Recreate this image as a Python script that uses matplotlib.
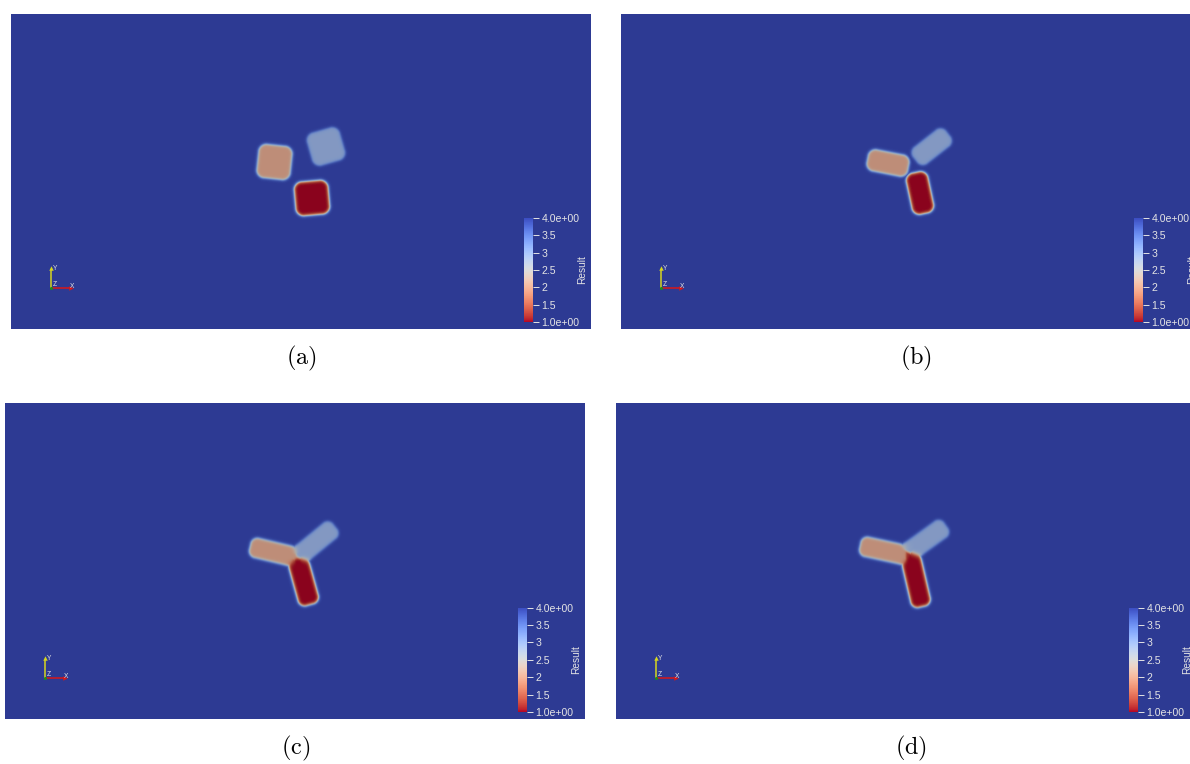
import numpy as np
import matplotlib
matplotlib.use("Agg")
import matplotlib.pyplot as plt
from matplotlib.colors import ListedColormap, Normalize
from matplotlib.cm import ScalarMappable

plt.rcParams["mathtext.fontset"] = "cm"

# ---------------------------------------------------------------- data
# phase field values: grain A (red), grain B (orange), grain C (light blue)
grain_values = [1.0, 2.0, 3.0]
matrix_value = 4.0
value_range = (1.0, 4.0)

cbar_ticks = [1.0, 1.5, 2.0, 2.5, 3.0, 3.5, 4.0]
cbar_ticklabels = ["1.0e+00", "1.5", "2", "2.5", "3", "3.5", "4.0e+00"]
cbar_title = "Result"

captions = ["(a)", "(b)", "(c)", "(d)"]

# (a) three rounded square grains: centre x, centre y, half length, half width, angle [deg]
grains_a_cx = [301.0, 263.5, 315.0]
grains_a_cy = [184.0, 148.0, 132.5]
grains_a_hl = [17.0, 17.0, 17.0]
grains_a_hw = [17.0, 17.0, 17.0]
grains_a_ang = [-5.0, 6.0, -16.0]

# (b) grains elongated into rounded rectangles
grains_b_cx = [299.0, 267.0, 310.7]
grains_b_cy = [179.0, 149.0, 132.7]
grains_b_hl = [21.0, 21.0, 21.0]
grains_b_hw = [11.0, 11.0, 10.5]
grains_b_ang = [78.0, 11.0, -38.0]

# (c) arms meeting at a triple junction: start point -> end point, half width
arms_c_x0 = [292.0, 292.0, 292.0]
arms_c_y0 = [154.0, 154.0, 154.0]
arms_c_x1 = [305.0, 245.0, 330.0]
arms_c_y1 = [201.0, 143.0, 123.0]
arms_c_hw = [10.5, 10.0, 10.0]

# (d) later stage of the triple junction
arms_d_x0 = [293.0, 291.0, 291.0]
arms_d_y0 = [147.0, 152.0, 150.0]
arms_d_x1 = [306.0, 244.0, 330.0]
arms_d_y1 = [203.0, 142.0, 122.0]
arms_d_hw = [10.0, 10.0, 10.0]

# ---------------------------------------------------------------- geometry helpers
W, H = 580, 315
xs = np.arange(W) + 0.5
ys = np.arange(H) + 0.5
X, Y = np.meshgrid(xs, ys)


def rounded_box_sdf(cx, cy, hl, hw, ang_deg, r):
    a = np.deg2rad(ang_deg)
    c, s = np.cos(a), np.sin(a)
    dx, dy = X - cx, Y - cy
    qx = c * dx + s * dy
    qy = -s * dx + c * dy
    ex = np.abs(qx) - (hl - r)
    ey = np.abs(qy) - (hw - r)
    outside = np.hypot(np.maximum(ex, 0), np.maximum(ey, 0))
    inside = np.minimum(np.maximum(ex, ey), 0)
    return outside + inside - r


def field_from_sdfs(sdfs, eps=1.6, tau=1.3):
    d = np.stack(sdfs)
    dmin = d.min(axis=0)
    inside = 0.5 * (1.0 - np.tanh(dmin / eps))
    w = np.exp(-(d - dmin) / tau)
    w /= w.sum(axis=0)
    val = np.tensordot(np.array(grain_values), w, axes=1)
    return inside * val + (1.0 - inside) * matrix_value


def boxes(cx, cy, hl, hw, ang, r=8.0):
    return [rounded_box_sdf(cx[i], cy[i], hl[i], hw[i], ang[i], min(r, hw[i] * 0.7))
            for i in range(len(cx))]


def arms(x0, y0, x1, y1, hw, ext=5.0, r=7.0):
    out = []
    for i in range(len(x0)):
        dx, dy = x1[i] - x0[i], y1[i] - y0[i]
        L = np.hypot(dx, dy)
        ux, uy = dx / L, dy / L
        # extend the inner end through the junction
        sx, sy = x0[i] - ux * ext, y0[i] - uy * ext
        cx, cy = (sx + x1[i]) / 2, (sy + y1[i]) / 2
        hl = (L + ext) / 2
        ang = np.rad2deg(np.arctan2(dy, dx))
        out.append(rounded_box_sdf(cx, cy, hl, hw[i], ang, min(r, hw[i] * 0.7)))
    return out


fields = [
    field_from_sdfs(boxes(grains_a_cx, grains_a_cy, grains_a_hl, grains_a_hw, grains_a_ang)),
    field_from_sdfs(boxes(grains_b_cx, grains_b_cy, grains_b_hl, grains_b_hw, grains_b_ang)),
    field_from_sdfs(arms(arms_c_x0, arms_c_y0, arms_c_x1, arms_c_y1, arms_c_hw)),
    field_from_sdfs(arms(arms_d_x0, arms_d_y0, arms_d_x1, arms_d_y1, arms_d_hw)),
]

# ---------------------------------------------------------------- colours
base = plt.get_cmap("coolwarm_r")
bar_cmap = base
shade = base(np.linspace(0, 1, 256))
shade[:, :3] *= 0.77
surface_cmap = ListedColormap(shade)
norm = Normalize(*value_range)

# ---------------------------------------------------------------- figure
FW, FH = 1190, 764
fig = plt.figure(figsize=(FW / 100, FH / 100), dpi=100)
fig.patch.set_facecolor("white")

panel_boxes = [(11, 14, 580, 315), (621, 14, 580, 315),
               (5, 403, 580, 316), (616, 403, 580, 316)]
caption_pos = [(301, 358), (916, 358), (296, 748), (911, 748)]

label_font = dict(family="Liberation Sans", color="#e4e4e4")

for k, (L, T, w, h) in enumerate(panel_boxes):
    ax = fig.add_axes([L / FW, 1 - (T + h) / FH, w / FW, h / FH])
    ax.imshow(fields[k], cmap=surface_cmap, norm=norm, extent=(0, W, H, 0),
              interpolation="bilinear", aspect="auto")
    ax.set_xlim(0, W)
    ax.set_ylim(H, 0)
    ax.axis("off")

    # scalar bar
    cax = ax.inset_axes([513 / W, 1 - 308 / H, 9 / W, 104 / H])
    cb = fig.colorbar(ScalarMappable(norm=norm, cmap=bar_cmap), cax=cax)
    cb.outline.set_visible(False)
    cb.set_ticks(cbar_ticks)
    cb.set_ticklabels(cbar_ticklabels)
    cax.tick_params(axis="y", colors="#e4e4e4", labelsize=7.6, length=4.5,
                    width=0.7, pad=1.5, direction="out")
    for t in cax.get_yticklabels():
        t.set_family("Liberation Sans")
    ax.text(571, 256, cbar_title, rotation=90, ha="center", va="center",
            fontsize=7.3, clip_on=False, **label_font)

    # orientation triad
    ox, oy = 40, 274.5
    ax.plot([ox, ox], [oy, oy - 19], color="#d6d61e", lw=1.1, solid_capstyle="butt")
    ax.plot([ox], [oy - 20], marker="^", color="#d6d61e", ms=3.2, mew=0)
    ax.plot([ox, ox + 19], [oy, oy], color="#d81818", lw=1.1, solid_capstyle="butt")
    ax.plot([ox + 20], [oy], marker=">", color="#d81818", ms=3.2, mew=0)
    ax.plot([ox], [oy], marker="o", color="#1e8a1e", ms=2.2, mew=0)
    ax.text(ox + 1.5, oy - 20, "Y", fontsize=4.8, ha="left", va="center", **label_font)
    ax.text(ox + 1.5, oy - 4, "Z", fontsize=4.8, ha="left", va="center", **label_font)
    ax.text(ox + 19, oy - 1.5, "X", fontsize=4.8, ha="left", va="center", **label_font)

    cxp, cyp = caption_pos[k]
    fig.text(cxp / FW, 1 - cyp / FH, r"$\mathrm{" + captions[k] + "}$",
             ha="center", va="center", fontsize=17.5, color="black")

fig.savefig("out.png", dpi=100)
